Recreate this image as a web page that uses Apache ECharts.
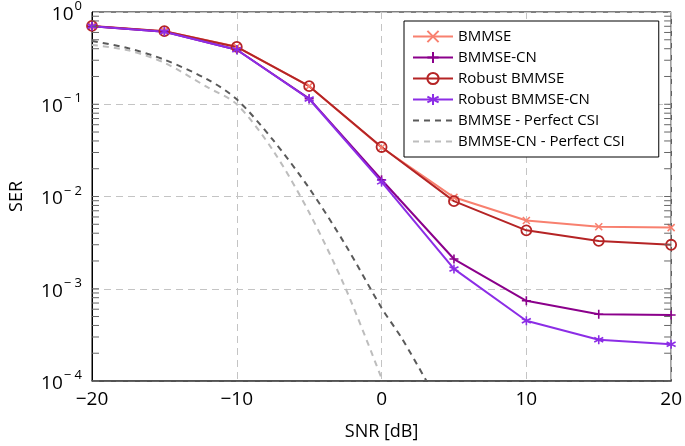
<!DOCTYPE html>
<html>
<head>
<meta charset="utf-8">
<script src="https://cdn.jsdelivr.net/npm/echarts@6/dist/echarts.min.js"></script>
<style>html,body{margin:0;padding:0;background:#fff;}#c{width:685px;height:446px;}</style>
</head>
<body>
<div id="c"></div>
<script>
// ---- data ----
var snr = [-20, -15, -10, -5, 0, 5, 10, 15, 20];
var bmmse          = [0.70, 0.62, 0.42, 0.157, 0.034, 0.0098, 0.0055, 0.0047, 0.0046];
var bmmseCn        = [0.70, 0.61, 0.39, 0.115, 0.0152, 0.0021, 0.00074, 0.00053, 0.00052];
var robustBmmse    = [0.706, 0.62, 0.418, 0.157, 0.0344, 0.0089, 0.0043, 0.0033, 0.0030];
var robustBmmseCn  = [0.70, 0.61, 0.39, 0.114, 0.0144, 0.00164, 0.00045, 0.00028, 0.00025];

var perfSnr        = [-20, -17.5, -15, -12, -10, -7.5, -5, -2.5, 0, 1.4, 3.1];
var perfBmmse      = [0.485, 0.405, 0.304, 0.185, 0.113, 0.041, 0.0123, 0.0030, 0.00062, 0.00029, 0.0001];
var perfCnSnr      = [-20, -17.5, -15, -12, -10, -7.5, -5, -2.5, 0];
var perfBmmseCn    = [0.44, 0.384, 0.282, 0.152, 0.100, 0.0316, 0.0067, 0.00102, 0.000107];

var xTicks = [-20, -10, 0, 10, 20];
var seriesNames = ['BMMSE', 'BMMSE-CN', 'Robust BMMSE', 'Robust BMMSE-CN', 'BMMSE - Perfect CSI', 'BMMSE-CN - Perfect CSI'];

// log-axis tick marks (decades and 2..9 minor ticks), drawn at both frame sides
var logTicks = [];
for (var d = -4; d <= -1; d++) { for (var k = 1; k <= 9; k++) { logTicks.push(k * Math.pow(10, d)); } }

function pair(xs, ys) { return xs.map(function (x, i) { return [x, ys[i]]; }); }

var FONT = '"Open Sans", "Noto Sans", sans-serif';
var crossPath = 'path://M0 0L10 10M10 0L0 10';
var plusPath = 'path://M5 0L5 10M0 5L10 5';
var starPath = 'path://M5 0L5 10M0.67 2.5L9.33 7.5M0.67 7.5L9.33 2.5';

function markerLine(name, data, color, symbol, size) {
  return {
    name: name, type: 'line', data: data,
    symbol: symbol, symbolSize: size,
    lineStyle: { color: color, width: 2 },
    itemStyle: { color: 'rgba(0,0,0,0)', borderColor: color, borderWidth: 1.6 },
    emphasis: { disabled: true },
    z: 3
  };
}
function dashedLine(name, data, color) {
  return {
    name: name, type: 'line', data: data,
    smooth: 0.3, showSymbol: false, symbol: 'none',
    lineStyle: { color: color, width: 2, type: [6, 5] },
    itemStyle: { color: color },
    emphasis: { disabled: true }, z: 2
  };
}

var legendData = seriesNames.map(function (n, i) {
  return i < 4 ? { name: n } : { name: n, itemStyle: { color: 'rgba(0,0,0,0)', borderWidth: 0, opacity: 0 } };
});

var chart = echarts.init(document.getElementById('c'), null, { renderer: 'canvas' });
chart.setOption({
  animation: false,
  backgroundColor: '#fff',
  textStyle: { fontFamily: FONT },
  grid: { left: 87, right: 12, top: 9.5, bottom: 61.5, show: true, borderColor: '#000', borderWidth: 1, containLabel: false },
  legend: {
    data: legendData,
    orient: 'vertical',
    left: 404, top: 21,
    padding: [8, 34, 8, 8],
    itemWidth: 40, itemHeight: 14, itemGap: 6,
    backgroundColor: '#fff', borderColor: '#000', borderWidth: 1, borderRadius: 0,
    textStyle: { fontFamily: FONT, fontSize: 15, color: '#000' },
    selectedMode: false
  },
  xAxis: {
    type: 'value', min: -20, max: 20, interval: 10,
    name: 'SNR [dB]', nameLocation: 'middle', nameGap: 42,
    nameTextStyle: { fontFamily: FONT, fontSize: 18, color: '#000' },
    axisLine: { show: true, onZero: false, lineStyle: { color: '#444', width: 1.5 } },
    axisTick: { show: false },
    axisLabel: {
      fontFamily: FONT, fontSize: 19, color: '#000', margin: 9,
      formatter: function (v) { return xTicks.indexOf(v) >= 0 ? (v < 0 ? '\u2212' + Math.abs(v) : String(v)) : ''; }
    },
    splitLine: { show: true, lineStyle: { color: '#c4c4c4', type: [7, 5], width: 1 } }
  },
  yAxis: {
    type: 'log', logBase: 10, min: 1e-4, max: 1,
    name: 'SER', nameLocation: 'middle', nameGap: 66,
    nameTextStyle: { fontFamily: FONT, fontSize: 18, color: '#000' },
    axisLine: { show: true, onZero: false, lineStyle: { color: '#000', width: 1 } },
    axisTick: { show: false },
    axisLabel: {
      margin: 10,
      formatter: function (v) {
        var e = Math.round(Math.log(v) / Math.LN10);
        return '{b|10}{s|' + (e < 0 ? '\u2212 ' + Math.abs(e) : String(e)) + '}';
      },
      rich: {
        b: { fontFamily: FONT, fontSize: 19, color: '#000', lineHeight: 24, verticalAlign: 'bottom' },
        s: { fontFamily: FONT, fontSize: 13, color: '#000', lineHeight: 24, verticalAlign: 'top', padding: [0, 0, 10, 1] }
      }
    },
    splitLine: { show: true, lineStyle: { color: '#c4c4c4', type: [7, 5], width: 1 } }
  },
  series: [
    markerLine('BMMSE', pair(snr, bmmse), '#F8806F', crossPath, 7),
    markerLine('BMMSE-CN', pair(snr, bmmseCn), '#8B008B', plusPath, 9),
    {
      name: 'Robust BMMSE', type: 'line', data: pair(snr, robustBmmse),
      symbol: 'circle', symbolSize: 10,
      lineStyle: { color: '#B52425', width: 2 },
      itemStyle: { color: 'rgba(0,0,0,0)', borderColor: '#B52425', borderWidth: 1.8 },
      emphasis: { disabled: true }, z: 3
    },
    markerLine('Robust BMMSE-CN', pair(snr, robustBmmseCn), '#8C2DE6', starPath, 9),
    dashedLine('BMMSE - Perfect CSI', pair(perfSnr, perfBmmse), '#5a5a5a'),
    dashedLine('BMMSE-CN - Perfect CSI', pair(perfCnSnr, perfBmmseCn), '#bdbdbd'),
    {
      name: 'ticks', type: 'custom', silent: true, z: 4,
      data: logTicks.map(function (v) { return [-20, v]; }),
      encode: { x: 0, y: 1 },
      renderItem: function (params, api) {
        var v = api.value(1);
        var pL = api.coord([-20, v]);
        var pR = api.coord([20, v]);
        var st = { stroke: '#666', lineWidth: 1 };
        return {
          type: 'group', children: [
            { type: 'line', shape: { x1: pL[0], y1: pL[1], x2: pL[0] + 7, y2: pL[1] }, style: st },
            { type: 'line', shape: { x1: pR[0], y1: pR[1], x2: pR[0] - 7, y2: pR[1] }, style: st }
          ]
        };
      }
    }
  ]
});
</script>
</body>
</html>
